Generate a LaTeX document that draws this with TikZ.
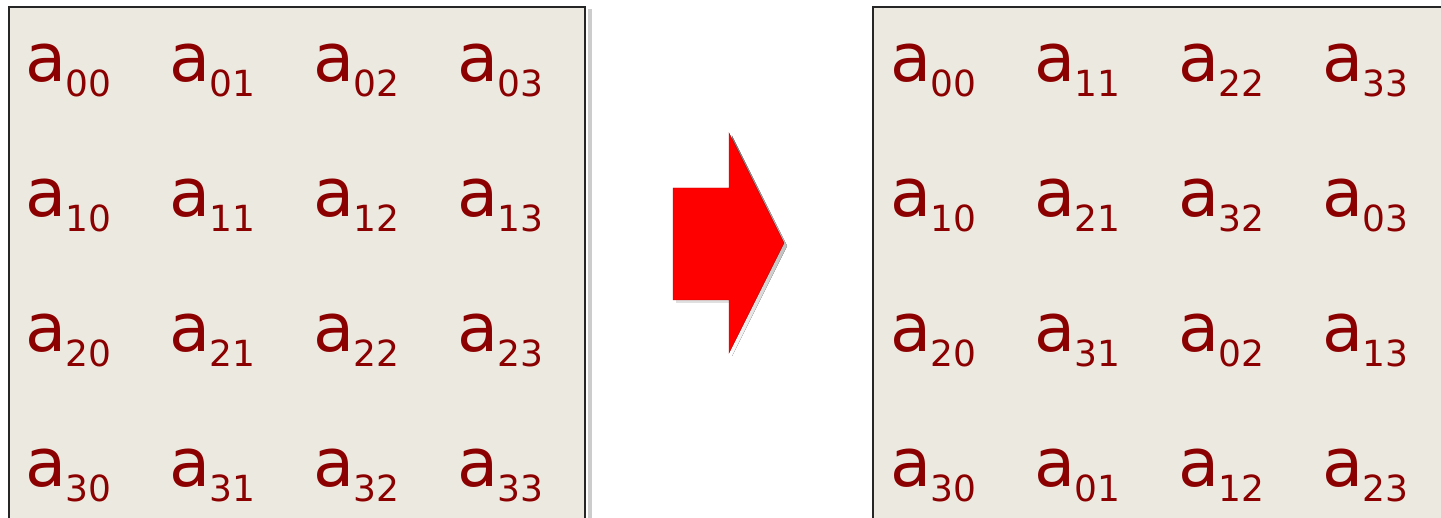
\documentclass[tikz,border=0pt]{standalone}
\usepackage{fontspec}
\setmainfont{DejaVu Sans}
\definecolor{boxfill}{RGB}{236,234,224}
\definecolor{txt}{RGB}{139,0,0}
\definecolor{shade}{RGB}{170,170,170}
\newcommand{\mel}[1]{{\fontsize{67}{67}\selectfont a}\kern-0.5pt\raisebox{-15pt}{\fontsize{36}{36}\selectfont #1}}
\begin{document}
\begin{tikzpicture}[x=1pt,y=1pt,
  panel/.style={fill=boxfill,draw=black!85,line width=1.3pt},
  elem/.style={anchor=base west,inner sep=0pt,text=txt}]
\useasboundingbox (0,0) rectangle (1441,518);
\fill[white] (0,0) rectangle (1441,518);
% left panel
\fill[shade!60] (588,0) rectangle (592,509);
\draw[panel] (9,-2) rectangle (585,511);
% right panel
\draw[panel] (873,-2) rectangle (1450,511);
% arrow shadow
\fill[shade] (676,215) -- (732,215) -- (732,162) -- (787,272) -- (732,382) -- (732,327) -- (676,327) -- cycle;
\fill[red,draw=red!70!black,line width=0.4pt] (673,218) -- (729,218) -- (729,165) -- (784,275) -- (729,385) -- (729,330) -- (673,330) -- cycle;
% left matrix
\foreach \r in {0,1,2,3}{
  \foreach \c in {0,1,2,3}{
    \node[elem] (L\r\c) at ({25+144*\c},{436-135*\r}) {\mel{\r\c}};
  }
}
% right matrix
\node[elem] (R00) at (890,436) {\mel{00}};
\node[elem] (R01) at (1034,436) {\mel{11}};
\node[elem] (R02) at (1178,436) {\mel{22}};
\node[elem] (R03) at (1322,436) {\mel{33}};
\node[elem] (R10) at (890,301) {\mel{10}};
\node[elem] (R11) at (1034,301) {\mel{21}};
\node[elem] (R12) at (1178,301) {\mel{32}};
\node[elem] (R13) at (1322,301) {\mel{03}};
\node[elem] (R20) at (890,166) {\mel{20}};
\node[elem] (R21) at (1034,166) {\mel{31}};
\node[elem] (R22) at (1178,166) {\mel{02}};
\node[elem] (R23) at (1322,166) {\mel{13}};
\node[elem] (R30) at (890,31) {\mel{30}};
\node[elem] (R31) at (1034,31) {\mel{01}};
\node[elem] (R32) at (1178,31) {\mel{12}};
\node[elem] (R33) at (1322,31) {\mel{23}};
\end{tikzpicture}
\end{document}
